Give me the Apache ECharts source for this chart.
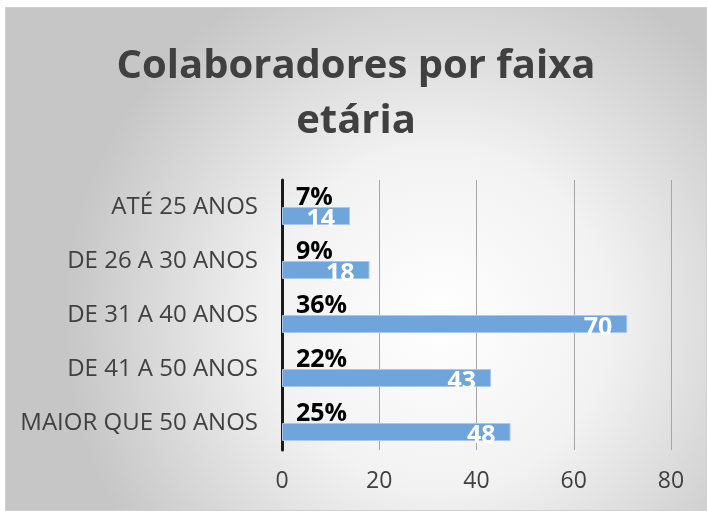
<!DOCTYPE html>
<html><head><meta charset="utf-8">
<script src="https://cdn.jsdelivr.net/npm/echarts@6/dist/echarts.min.js"></script>
<style>
html,body{margin:0;padding:0;background:#fff;}
#c{position:absolute;left:5px;top:7px;width:700px;height:502px;border:1px solid #d0d0d0;}
</style></head><body>
<div id="c"></div>
<script>
var categories = ['ATÉ 25 ANOS','DE 26 A 30 ANOS','DE 31 A 40 ANOS','DE 41 A 50 ANOS','MAIOR QUE 50 ANOS'];
var barValues = [14, 18, 71, 43, 47];     // bar lengths as drawn
var countLabels = [14, 18, 70, 43, 48];   // value labels as printed
var percents = [7, 9, 36, 22, 25];
var xTicks = [0, 20, 40, 60, 80];

var chart = echarts.init(document.getElementById('c'));
chart.setOption({
  backgroundColor: {type:'radial', x:0.62, y:0.62, r:0.75,
    colorStops:[{offset:0,color:'#ffffff'},{offset:0.45,color:'#f2f2f2'},{offset:1,color:'#c6c6c6'}]},
  animation:false,
  title:{text:'Colaboradores por faixa\netária', left:'center', top:26,
    textStyle:{fontFamily:'Open Sans', fontWeight:'bold', fontSize:40, lineHeight:55, color:'#404040'}},
  grid:{left:276, right:35, top:172, bottom:60},
  xAxis:{type:'value', min:xTicks[0], max:xTicks[xTicks.length-1], interval:20,
    axisLine:{show:false}, axisTick:{show:false},
    splitLine:{lineStyle:{color:'#a6a6a6', width:1}},
    axisLabel:{color:'#404040', fontFamily:'Open Sans', fontSize:23, margin:20}},
  yAxis:{type:'category', data:categories, inverse:true,
    axisLine:{lineStyle:{color:'#1a1a1a', width:3}}, axisTick:{show:false},
    axisLabel:{color:'#404040', fontFamily:'Open Sans', fontSize:24, margin:24}},
  series:[
    {type:'bar', data:percents, barWidth:18, barGap:'0%',
      itemStyle:{color:'rgba(0,0,0,0)'},
      label:{show:true, position:'insideLeft', distance:14, formatter:'{c}%',
        color:'#000', fontFamily:'Open Sans', fontWeight:'bold', fontSize:25}},
    {type:'bar', data:barValues, barWidth:18, barGap:'0%',
      itemStyle:{color:'#70a5db', borderColor:'#a9c8ea', borderWidth:1},
      label:{show:true, position:'insideRight', distance:15, offset:[0,4],
        formatter:function(p){return String(countLabels[p.dataIndex]);},
        color:'#fff', fontFamily:'Open Sans', fontWeight:'bold', fontSize:25}}
  ]
});
</script></body></html>
